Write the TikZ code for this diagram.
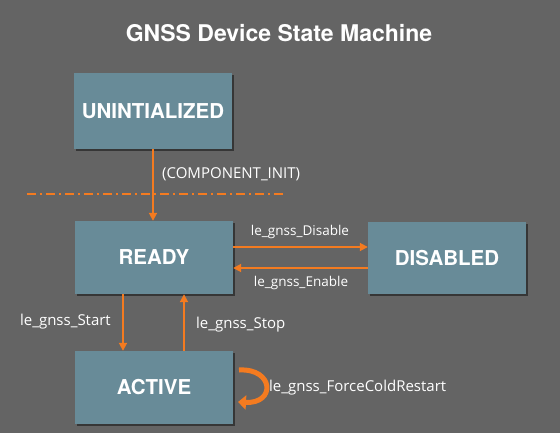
\documentclass[tikz,border=0pt]{standalone}
\usepackage{fontspec}
\setmainfont{Open Sans}
\newfontfamily\headfont{TeX Gyre Heros}
\usetikzlibrary{arrows.meta,shadows}
\definecolor{bgc}{HTML}{646464}
\definecolor{boxc}{HTML}{688B98}
\definecolor{orc}{HTML}{F47B20}
\tikzset{
  statebox/.style={rectangle, fill=boxc, minimum width=158pt, minimum height=73pt, inner sep=0pt,
    text=white, font=\headfont\bfseries\fontsize{20.5}{24}\selectfont,
    drop shadow={shadow xshift=2pt, shadow yshift=-2pt, fill=black, opacity=0.45}},
  arr/.style={draw=orc, line width=1.8pt, -{Triangle[length=8pt,width=8pt]}},
  lbl/.style={text=white, font=\fontsize{15}{17}\selectfont, inner sep=0pt},
  slbl/.style={text=white, font=\fontsize{13.5}{16}\selectfont, inner sep=0pt}
}
\begin{document}
\begin{tikzpicture}[x=1pt,y=-1pt]
\fill[bgc] (0,0) rectangle (560,433);
\useasboundingbox (0,0) rectangle (560,433);
\node[text=white, font=\headfont\bfseries\fontsize{23}{28}\selectfont] (title) at (279,33) {GNSS Device State Machine};
\node[statebox, minimum height=76pt] (uninit) at (153,111) {UNINTIALIZED};
\node[statebox] (ready) at (154,257.5) {READY};
\node[statebox, minimum height=72pt] (disabled) at (447,258) {DISABLED};
\node[statebox] (active) at (154,387.5) {ACTIVE};
\draw[orc, line width=1.5pt, dash pattern=on 9pt off 4pt on 2pt off 4pt] (27,194) coordinate (dl) -- (285,194) coordinate (dr);
\draw[arr] (uninit.south -| 153,0) -- (ready.north -| 153,0);
\node[lbl, anchor=west] (ci) at (162,174) {(COMPONENT\_INIT)};
\draw[arr] (ready.east |- 0,247) -- (disabled.west |- 0,247);
\node[slbl] (ldis) at (300,232) {le\_gnss\_Disable};
\draw[arr] (disabled.west |- 0,268) -- (ready.east |- 0,268);
\node[slbl] (len) at (301,283) {le\_gnss\_Enable};
\draw[arr] (ready.south -| 123,0) -- (active.north -| 123,0);
\node[lbl, anchor=east] (lst) at (111,322) {le\_gnss\_Start};
\draw[arr] (active.north -| 184,0) -- (ready.south -| 184,0);
\node[lbl, anchor=west] (lsp) at (196,325) {le\_gnss\_Stop};
\coordinate (la) at (239,370);
\coordinate (lb) at (238,402);
\draw[orc, line width=5pt, -{Triangle[length=8pt,width=14pt]}] (la) .. controls (274,368) and (276,404) .. (lb);
\node[lbl, anchor=west] (lfc) at (269,388) {le\_gnss\_ForceColdRestart};
\end{tikzpicture}
\end{document}
